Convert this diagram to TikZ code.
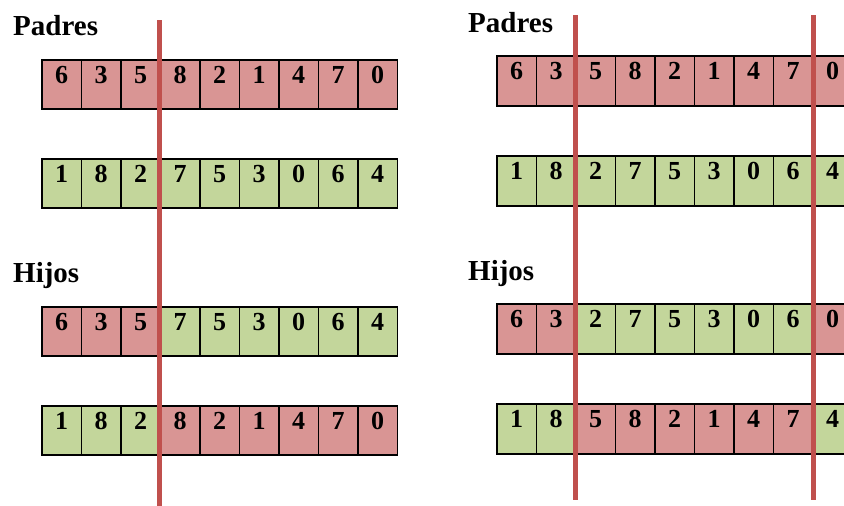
\documentclass[tikz,border=0pt]{standalone}
\usepackage{fontspec}
\setmainfont{Liberation Serif}
\definecolor{cr}{HTML}{D99594}
\definecolor{cg}{HTML}{C3D69B}
\definecolor{cutline}{HTML}{C0504D}
\tikzset{
  cell/.style={draw=black, line width=1.8pt, inner sep=0pt, anchor=north west,
    minimum width=39.5pt, text height=24pt, text depth=25pt,
    font=\fontsize{26}{28}\selectfont\bfseries},
  rcell/.style={cell, text depth=26pt},
  header/.style={anchor=base west, inner sep=0pt, font=\fontsize{29}{31}\selectfont\bfseries},
  cut/.style={draw=cutline, line width=5pt}
}
\begin{document}
\begin{tikzpicture}[x=1pt,y=-1pt]
\useasboundingbox (0,0) rectangle (844,506);
\clip (0,0) rectangle (844,506);
\fill[white] (0,0) rectangle (844,506);
% ---------- left panel ----------
\node[header] (lp) at (13,35) {Padres};
\node[header] (lh) at (13,282) {Hijos};
\foreach \d/\c [count=\i from 0] in {6/cr,3/cr,5/cr,8/cr,2/cr,1/cr,4/cr,7/cr,0/cr}
  \node[cell, fill=\c] (La\i) at (41+39.5*\i,59) {\d};
\foreach \d/\c [count=\i from 0] in {1/cg,8/cg,2/cg,7/cg,5/cg,3/cg,0/cg,6/cg,4/cg}
  \node[cell, fill=\c] (Lb\i) at (41+39.5*\i,158) {\d};
\foreach \d/\c [count=\i from 0] in {6/cr,3/cr,5/cr,7/cg,5/cg,3/cg,0/cg,6/cg,4/cg}
  \node[cell, fill=\c] (Lc\i) at (41+39.5*\i,306) {\d};
\foreach \d/\c [count=\i from 0] in {1/cg,8/cg,2/cg,8/cr,2/cr,1/cr,4/cr,7/cr,0/cr}
  \node[cell, fill=\c] (Ld\i) at (41+39.5*\i,405) {\d};
\coordinate (lt) at (159,20);
\coordinate (lb) at (159,506);
\draw[cut] (lt) -- (lb);
% ---------- right panel ----------
\node[header] (rp) at (468,32) {Padres};
\node[header] (rh) at (468,280) {Hijos};
\foreach \d/\c [count=\i from 0] in {6/cr,3/cr,5/cr,8/cr,2/cr,1/cr,4/cr,7/cr,0/cr}
  \node[rcell, fill=\c] (Ra\i) at (496+39.5*\i,55) {\d};
\foreach \d/\c [count=\i from 0] in {1/cg,8/cg,2/cg,7/cg,5/cg,3/cg,0/cg,6/cg,4/cg}
  \node[rcell, fill=\c] (Rb\i) at (496+39.5*\i,155) {\d};
\foreach \d/\c [count=\i from 0] in {6/cr,3/cr,2/cg,7/cg,5/cg,3/cg,0/cg,6/cg,0/cr}
  \node[rcell, fill=\c] (Rc\i) at (496+39.5*\i,303) {\d};
\foreach \d/\c [count=\i from 0] in {1/cg,8/cg,5/cr,8/cr,2/cr,1/cr,4/cr,7/cr,4/cg}
  \node[rcell, fill=\c] (Rd\i) at (496+39.5*\i,403) {\d};
\coordinate (r1t) at (575,15);
\coordinate (r1b) at (575,500);
\coordinate (r2t) at (813,15);
\coordinate (r2b) at (813,500);
\draw[cut] (r1t) -- (r1b);
\draw[cut] (r2t) -- (r2b);
\end{tikzpicture}
\end{document}
